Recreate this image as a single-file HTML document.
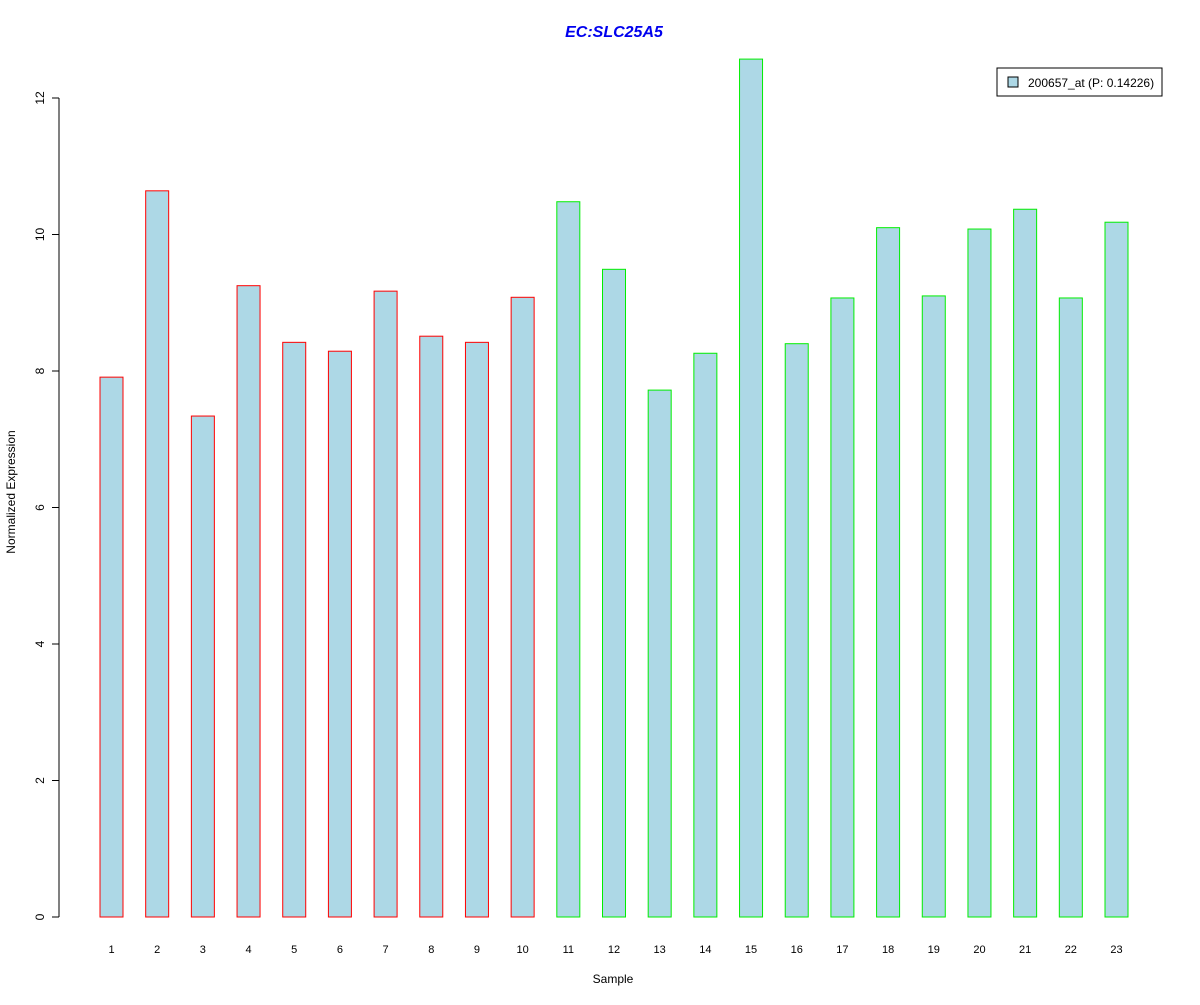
<!DOCTYPE html>
<html><head><meta charset="utf-8"><style>body{margin:0;background:#fff}svg{font-family:"Liberation Sans",Arial,sans-serif}</style></head>
<body>
<svg id="chart" width="1200" height="1000" xmlns="http://www.w3.org/2000/svg">
<rect width="1200" height="1000" fill="#fff"/>
<text x="614" y="37" text-anchor="middle" font-size="16" font-weight="bold" font-style="italic" fill="#0000ee">EC:SLC25A5</text>
<text x="613" y="983" text-anchor="middle" font-size="12">Sample</text>
<text transform="translate(15,492) rotate(-90)" text-anchor="middle" font-size="12">Normalized Expression</text>
<g id="yaxis"></g>
<g id="bars"></g>
<g id="xlabels"></g>
<g>
<rect x="997" y="68" width="165" height="28" fill="#fff" stroke="#000"/>
<rect x="1008" y="77" width="10" height="10" fill="#add8e6" stroke="#000"/>
<text x="1028" y="87" font-size="12">200657_at (P: 0.14226)</text>
</g>
</svg>
<script>
const categories = ["1","2","3","4","5","6","7","8","9","10","11","12","13","14","15","16","17","18","19","20","21","22","23"];
const values = [7.91,10.64,7.34,9.25,8.42,8.29,9.17,8.51,8.42,9.08,10.48,9.49,7.72,8.26,12.57,8.40,9.07,10.10,9.10,10.08,10.37,9.07,10.18];
const groups = [1,1,1,1,1,1,1,1,1,1,2,2,2,2,2,2,2,2,2,2,2,2,2];
const yTicks = [0,2,4,6,8,10,12];
const NS="http://www.w3.org/2000/svg";
const y0=917, yPer=(917-98)/12;
const yScale=v=>y0-v*yPer;
const xScale=i=>111.5+i*(1116.5-111.5)/22;
const bw=23;
function mk(t,a,p){const e=document.createElementNS(NS,t);for(const k in a)e.setAttribute(k,a[k]);p.appendChild(e);return e;}
const ya=document.getElementById('yaxis');
mk('line',{x1:59,x2:59,y1:yScale(0),y2:yScale(12),stroke:'#000'},ya);
yTicks.forEach(t=>{
  const l=mk('line',{x1:52,x2:59,y1:yScale(t),y2:yScale(t),stroke:'#000'},ya);
  
  
  const tx=mk('text',{transform:`translate(44,${yScale(t)}) rotate(-90)`,'text-anchor':'middle','font-size':12},ya);
  tx.textContent=t;
  
  
});
const bg=document.getElementById('bars'), xl=document.getElementById('xlabels');
values.forEach((v,i)=>{
  const r=mk('rect',{x:xScale(i)-bw/2,y:yScale(v),width:bw,height:yScale(0)-yScale(v),fill:'#add8e6',stroke:groups[i]===1?'#ff0000':'#00ee00'},bg);
  
  
  const t=mk('text',{x:xScale(i),y:953,'text-anchor':'middle','font-size':11},xl);
  t.textContent=categories[i];
  
  
});
</script>
</body></html>
